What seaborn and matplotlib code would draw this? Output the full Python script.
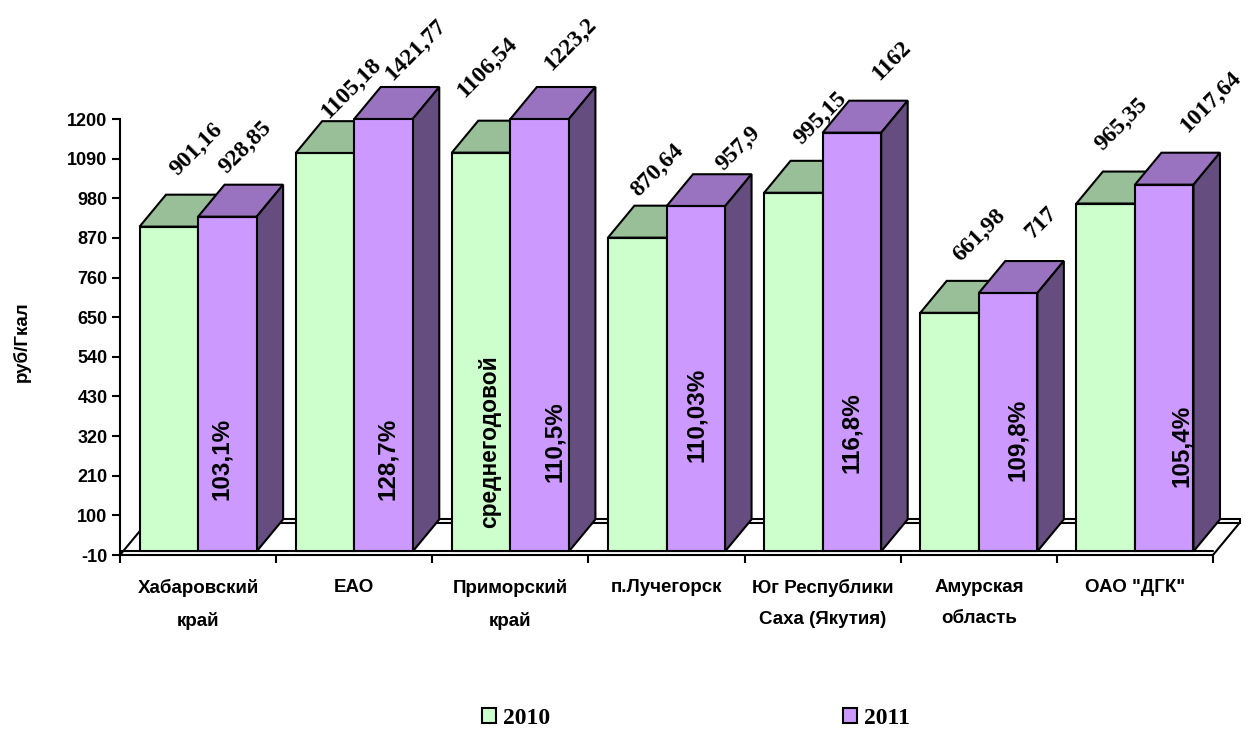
import matplotlib
matplotlib.use("Agg")
import matplotlib.pyplot as plt
import pandas as pd
import seaborn as sns
from matplotlib.patches import Polygon

categories = ["Хабаровский\nкрай", "ЕАО", "Приморский\nкрай", "п.Лучегорск",
              "Юг Республики\nСаха (Якутия)", "Амурская\nобласть", 'ОАО "ДГК"']
values_2010 = [901.16, 1105.18, 1106.54, 870.64, 995.15, 661.98, 965.35]
values_2011 = [928.85, 1421.77, 1223.2, 957.9, 1162, 717, 1017.64]
labels_2010 = ["901,16", "1105,18", "1106,54", "870,64", "995,15", "661,98", "965,35"]
labels_2011 = ["928,85", "1421,77", "1223,2", "957,9", "1162", "717", "1017,64"]
percent_labels = ["103,1%", "128,7%", "110,5%", "110,03%", "116,8%", "109,8%", "105,4%"]
percent_heights = [256, 256, 304, 379, 331, 309, 293]
y_ticks = [-10, 100, 210, 320, 430, 540, 650, 760, 870, 980, 1090, 1200]

# hand placed label offsets (pixels), as in the source chart
offsets_2010 = [(28, -77), (26, -65), (6, -85), (20, -67), (27, -75), (30, -78), (16, -79)]
offsets_2011 = [(18, -69), (32, -69), (31, -75), (43, -58), (40, -72), (33, -71), (46, -83)]
percent_dx = [-6, 4, 15, 1, 0, 9, 17]

sns.set_theme(style="white")
plt.rcParams["font.family"] = ["Liberation Sans"]
plt.rcParams["text.color"] = "black"

C10, C11 = "#CCFFCC", "#CC99FF"
TOP = {C10: "#99BF99", C11: "#9973BF"}
SIDE = {C10: "#667F66", C11: "#664D7F"}
LW = 1.5

df = pd.DataFrame({
    "cat": categories * 2,
    "year": ["2010"] * 7 + ["2011"] * 7,
    "val": values_2010 + values_2011,
})

W, H = 1246, 731
fig = plt.figure(figsize=(W / 100, H / 100), dpi=100, facecolor="white")
ax = fig.add_axes([120 / W, 1 - 555 / H, (1213 - 120) / W, (555 - 119) / H])
sns.barplot(data=df, x="cat", y="val", hue="year", order=categories,
            hue_order=["2010", "2011"], palette=[C10, C11], saturation=1,
            width=0.75, gap=0, edgecolor="black", linewidth=LW, ax=ax, errorbar=None)

YMIN, YMAX = -10, 1200
ax.set_ylim(YMIN, YMAX)
ax.set_xlim(-0.5, 6.5)
px_x = 7 / (1213 - 120)
px_y = (YMAX - YMIN) / (555 - 119)
DX, DY = 26.5 * px_x, 32 * px_y

# floor plate
kw = dict(color="black", lw=LW, clip_on=False, zorder=0.6, solid_capstyle="round")
ax.plot([-0.5, 6.5], [0, 0], **kw)
ax.plot([-0.5 + DX, 6.5 + DX], [DY, DY], **kw)
ax.plot([-0.5 + DX, 6.5 + DX], [DY - 10, DY - 10], **kw)
ax.plot([-0.5, -0.5 + DX], [-10, DY - 10], **kw)
ax.plot([6.5, 6.5 + DX], [-10, DY - 10], **kw)
ax.plot([6.5 + DX, 6.5 + DX], [DY - 10, DY], **kw)

# 3D faces
for container, col, order in zip(ax.containers[:2], [C10, C11], [0.7, 0.8]):
    for bar in container:
        x0, x1 = bar.get_x(), bar.get_x() + bar.get_width()
        t = min(bar.get_height(), YMAX)
        ax.add_patch(Polygon([(x0, t), (x1, t), (x1 + DX, t + DY), (x0 + DX, t + DY)],
                             closed=True, fc=TOP[col], ec="black", lw=LW,
                             clip_on=False, zorder=order))
        ax.add_patch(Polygon([(x1, 0), (x1 + DX, DY), (x1 + DX, t + DY), (x1, t)],
                             closed=True, fc=SIDE[col], ec="black", lw=LW,
                             clip_on=False, zorder=order))
        ax.plot([x0, x1], [t, t], color="black", lw=LW, clip_on=False, zorder=1.5)

# rotated value labels
serif = ["Liberation Serif"]
for container, labs, offs in zip(ax.containers[:2], [labels_2010, labels_2011],
                                 [offsets_2010, offsets_2011]):
    for bar, lab, (ox, oy) in zip(container, labs, offs):
        cx = bar.get_x() + bar.get_width() / 2
        t = min(bar.get_height(), YMAX)
        ax.text(cx + ox * px_x, t - oy * px_y, lab, rotation=45, ha="center", va="center",
                rotation_mode="anchor", family=serif, fontweight="bold", fontsize=17,
                color="black", clip_on=False, zorder=5)

# percent labels inside the 2011 bars
for bar, lab, h, dx in zip(ax.containers[1], percent_labels, percent_heights, percent_dx):
    ax.text(bar.get_x() + bar.get_width() / 2 + dx * px_x, h, lab, rotation=90,
            ha="center", va="center", family="Liberation Sans", fontweight="bold",
            fontsize=17.5, color="black", zorder=5)
ax.text(ax.containers[0][2].get_x() + ax.containers[0][2].get_width() * 0.65, 306,
        "среднегодовой", rotation=90, ha="center", va="center",
        family="Liberation Sans", fontweight="bold", fontsize=16.4, color="black", zorder=5)

# axes
for s in ["top", "right"]:
    ax.spines[s].set_visible(False)
for s in ["left", "bottom"]:
    ax.spines[s].set_linewidth(LW)
    ax.spines[s].set_color("black")
ax.set_yticks(y_ticks)
ax.set_yticklabels([str(v) for v in y_ticks], fontweight="bold", fontsize=13, color="black")
ax.set_xticks([i - 0.5 for i in range(8)], labels=[""] * 8)
ax.set_xticks(range(7), labels=categories, minor=True)
ax.tick_params(axis="x", which="major", length=6, width=LW, color="black", bottom=True)
ax.tick_params(axis="x", which="minor", length=0, pad=17, color="black")
for t in ax.get_xticklabels(minor=True):
    t.set_fontweight("bold")
    t.set_fontsize(13.5)
    t.set_linespacing(2.1)
    t.set_verticalalignment("top")
    t.set_color("black")
ax.tick_params(axis="y", length=6, width=LW, pad=3, color="black", left=True)
ax.set_xlabel("")
ax.set_ylabel("")
fig.text(22 / W, 1 - 342 / H, "руб/Гкал", rotation=90, ha="center", va="center",
         fontweight="bold", fontsize=13.5, color="black")

# legend
sns.move_legend(ax, "center", bbox_to_anchor=(696 / W, 1 - 718 / H),
                bbox_transform=fig.transFigure, ncol=2, frameon=False, title=None,
                prop={"family": serif, "weight": "bold", "size": 17},
                handlelength=0.6, handleheight=0.6, handletextpad=0.3,
                columnspacing=12.4, labelcolor="black")

fig.savefig("out.png", dpi=100, facecolor="white")
